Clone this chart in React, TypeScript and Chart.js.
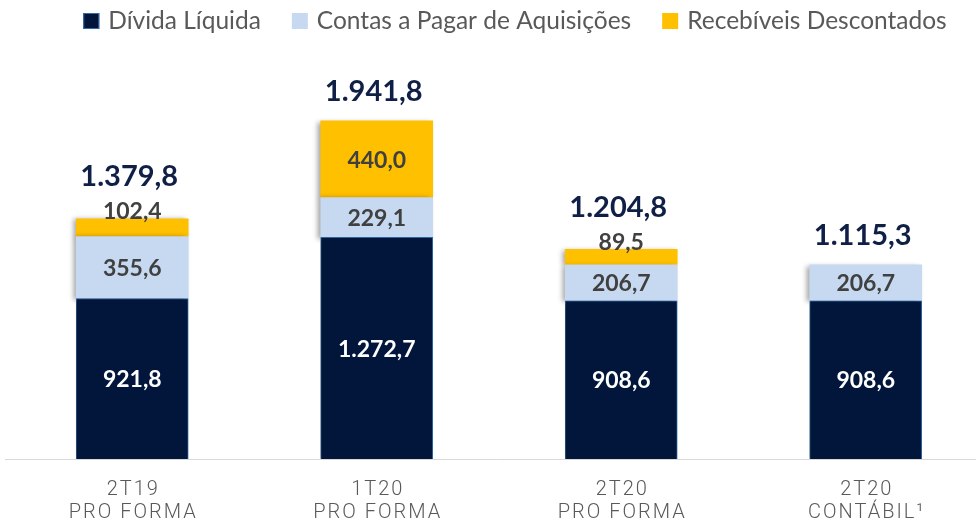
import { useEffect, useRef } from "react";
import { Chart, registerables } from "chart.js";

Chart.register(...registerables);

const categoryTop = ["2T19", "1T20", "2T20", "2T20"];
const categoryBottom = ["PRO FORMA", "PRO FORMA", "PRO FORMA", "CONTÁBIL¹"];
const dividaLiquida = [921.8, 1272.7, 908.6, 908.6];
const contasPagar = [355.6, 229.1, 206.7, 206.7];
const recebiveis: (number | null)[] = [102.4, 440.0, 89.5, null];
const totals = [1379.8, 1941.8, 1204.8, 1115.3];
const seriesNames = ["Dívida Líquida", "Contas a Pagar de Aquisições", "Recebíveis Descontados"];
const seriesColors = ["#01163a", "#c6d9f1", "#ffc000"];

function fmt(v: number): string {
  const [intPart, dec] = v.toFixed(1).split(".");
  const withSep = intPart.replace(/\B(?=(\d{3})+(?!\d))/g, ".");
  return withSep + "," + dec;
}

const FONT = "Lato, 'Open Sans', sans-serif";

const customPlugin = {
  id: "custom",
  beforeDatasetsDraw(chart: any) {
    const ctx = chart.ctx;
    ctx.save();
    ctx.shadowColor = "rgba(0,0,0,0.35)";
    ctx.shadowBlur = 5;
    ctx.shadowOffsetX = -3;
    ctx.shadowOffsetY = 1;
  },
  afterDatasetsDraw(chart: any) {
    const ctx = chart.ctx;
    ctx.restore();
    const area = chart.chartArea;
    // baseline
    ctx.save();
    ctx.strokeStyle = "#d9d9d9";
    ctx.lineWidth = 1;
    ctx.beginPath();
    ctx.moveTo(area.left - 5, Math.round(area.bottom) + 0.5);
    ctx.lineTo(chart.width, Math.round(area.bottom) + 0.5);
    ctx.stroke();
    ctx.restore();

    const raised: boolean[] = categoryTop.map(() => false);
    ctx.save();
    ctx.textAlign = "center";
    ctx.textBaseline = "middle";
    chart.data.datasets.forEach((ds: any, i: number) => {
      const meta = chart.getDatasetMeta(i);
      meta.data.forEach((el: any, j: number) => {
        const v = ds.data[j];
        if (v == null) return;
        const h = el.base - el.y;
        let cy = (el.y + el.base) / 2;
        if (i === 2 && h < 22) {
          cy = el.y - 8;
          raised[j] = true;
        }
        ctx.fillStyle = i === 0 ? "#ffffff" : "#404040";
        ctx.font = `bold 23px ${FONT}`;
        ctx.fillText(fmt(v), el.x, cy + 1);
      });
    });
    const ys = chart.scales.y;
    const xs = chart.scales.x;
    totals.forEach((t, j) => {
      const top = ys.getPixelForValue(t);
      const x = xs.getPixelForValue(j) - 3;
      ctx.fillStyle = "#0f1f45";
      ctx.font = `bold 29px ${FONT}`;
      ctx.fillText(fmt(t), x, top - (raised[j] ? 42 : 29));
    });
    // x labels
    ctx.fillStyle = "#595959";
    ctx.font = `300 20px Roboto, ${FONT}`;
    (ctx as any).letterSpacing = "2px";
    categoryTop.forEach((c, j) => {
      const x = xs.getPixelForValue(j) + 1;
      ctx.fillText(c, x, area.bottom + 31);
      ctx.fillText(categoryBottom[j], x, area.bottom + 54);
    });
    (ctx as any).letterSpacing = "0px";
    ctx.restore();
  },
  afterDraw(chart: any) {
    const ctx = chart.ctx;
    ctx.save();
    ctx.font = `24.5px ${FONT}`;
    ctx.textBaseline = "middle";
    ctx.textAlign = "left";
    const sq = 16;
    const gapText = 9;
    const gapItem = 31;
    const widths = seriesNames.map((n) => ctx.measureText(n).width);
    const total = widths.reduce((a, w) => a + sq + gapText + w, 0) + gapItem * (seriesNames.length - 1);
    let x = 515 - total / 2;
    const cy = 21;
    seriesNames.forEach((n, i) => {
      ctx.fillStyle = seriesColors[i];
      ctx.fillRect(x, cy - sq / 2, sq, sq);
      if (i === 0) {
        ctx.strokeStyle = "#2f6ea8";
        ctx.lineWidth = 1;
        ctx.strokeRect(x + 0.5, cy - sq / 2 + 0.5, sq - 1, sq - 1);
      }
      x += sq + gapText;
      ctx.fillStyle = "#595959";
      ctx.fillText(n, x, cy);
      x += widths[i] + gapItem;
    });
    ctx.restore();
  },
};

export default function App() {
  const ref = useRef<HTMLCanvasElement | null>(null);
  useEffect(() => {
    if (!ref.current) return;
    const chart = new Chart(ref.current, {
      type: "bar",
      data: {
        labels: categoryTop.map((c, j) => [c, categoryBottom[j]]),
        datasets: [
          {
            label: seriesNames[0],
            data: dividaLiquida,
            backgroundColor: seriesColors[0],
            borderColor: "#2f6ea8",
            borderWidth: 1,
            barThickness: 112,
          },
          {
            label: seriesNames[1],
            data: contasPagar,
            backgroundColor: seriesColors[1],
            borderWidth: 0,
            barThickness: 112,
          },
          {
            label: seriesNames[2],
            data: recebiveis,
            backgroundColor: seriesColors[2],
            borderWidth: 0,
            barThickness: 112,
          },
        ],
      },
      options: {
        responsive: false,
        animation: false,
        devicePixelRatio: 1,
        layout: { padding: { left: 10, right: 2, top: 76, bottom: 66 } },
        plugins: { legend: { display: false }, tooltip: { enabled: false } },
        scales: {
          x: { stacked: true, display: false },
          y: { stacked: true, display: false, min: 0, max: 2200 },
        },
      },
      plugins: [customPlugin],
    });
    return () => chart.destroy();
  }, []);
  return (
    <div style={{ position: "fixed", left: 0, top: 0, width: 976, height: 525, overflow: "hidden", background: "#fff" }}>
      <canvas ref={ref} width={990} height={525} />
    </div>
  );
}
